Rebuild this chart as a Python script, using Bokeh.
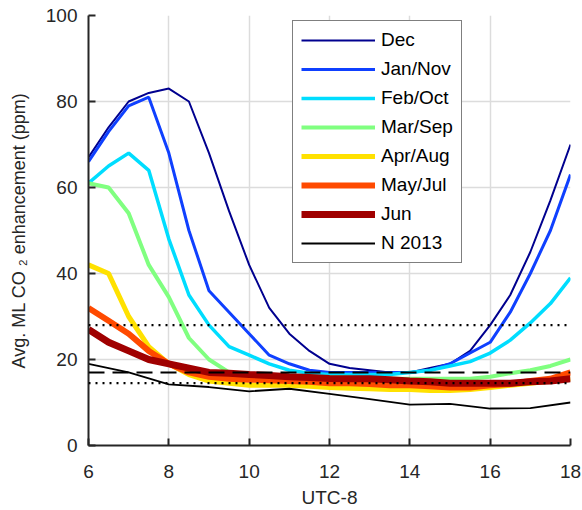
from bokeh.plotting import figure
from bokeh.models import Range1d, Span, Legend, LegendItem, FixedTicker
from bokeh.embed import file_html
from bokeh.resources import INLINE

hours = [6, 6.5, 7, 7.5, 8, 8.5, 9, 9.5, 10, 10.5, 11, 11.5, 12, 12.5, 13,
         13.5, 14, 14.5, 15, 15.5, 16, 16.5, 17, 17.5, 18]
dec = [67, 74, 80, 82, 83, 80, 68, 54.5, 42, 32, 26, 22, 19, 18, 17.5, 17, 17,
       18, 19, 22, 28, 35, 45, 57, 70]
jan_nov = [66, 73, 79, 81, 68, 50, 36, 31, 26, 21, 19, 17.5, 17, 17, 17, 17, 17,
           17.5, 19, 21.5, 24, 31, 40, 50, 63]
feb_oct = [61, 65, 68, 64, 48, 35, 28, 23, 21, 19, 17.5, 16.8, 16.5, 16.5, 16.5,
           16.5, 17, 17.5, 18.5, 19.5, 21.5, 24.5, 28.5, 33, 39]
mar_sep = [61, 60, 54, 42, 34.5, 25, 20, 17, 16.5, 16, 16, 16, 15.8, 15.8, 15.5,
           15.5, 15.5, 15.5, 15.5, 15.5, 16, 16.8, 17.5, 18.5, 20]
apr_aug = [42, 40, 30, 23, 19, 16.5, 15, 14.5, 14, 14, 14, 13.8, 13.5, 13.3, 13.2,
           13, 13, 12.8, 12.8, 13, 13.5, 14, 14.5, 15, 15.5]
may_jul = [32, 29, 26, 22, 19, 17, 16, 15.5, 15.3, 15.2, 15, 14.8, 14.5, 14.5, 14.3,
           14, 14, 13.8, 13.5, 13.5, 14, 14.3, 15, 15.5, 17]
jun = [27, 24, 22, 20, 19, 18, 17, 16.8, 16.5, 16.3, 16, 15.8, 15.6, 15.5, 15.5,
       15.3, 15, 14.8, 14.5, 14.5, 14.5, 14.5, 14.8, 15, 15.5]
n2013_hours = [6, 7, 8, 9, 10, 11, 12, 13, 14, 15, 16, 17, 18]
n2013 = [19, 17, 14.2, 13.6, 12.6, 13.2, 12, 10.8, 9.5, 9.7, 8.6, 8.7, 10]
dotted_levels = [28, 14.5]
dashed_level = 17

series_names = ["Dec", "Jan/Nov", "Feb/Oct", "Mar/Sep", "Apr/Aug", "May/Jul", "Jun"]
series_values = [dec, jan_nov, feb_oct, mar_sep, apr_aug, may_jul, jun]
colors = ["#00008F", "#0F40FF", "#00DDFF", "#80FF80", "#FFE100", "#FF4A00", "#A00000"]
widths = [2, 3, 3.5, 4, 5, 6, 7]

FONT = "Liberation Sans"
TXT = "#262626"

p = figure(width=582, height=510, output_backend="svg", toolbar_location=None,
           x_range=Range1d(6, 18), y_range=Range1d(0, 100),
           min_border_left=88, min_border_right=12, min_border_top=15,
           min_border_bottom=65)
p.outline_line_color = None
p.background_fill_color = "white"
p.border_fill_color = "white"

for ax in (p.xaxis[0], p.yaxis[0]):
    ax.axis_line_color = TXT
    ax.axis_line_width = 2
    ax.major_tick_line_color = TXT
    ax.major_tick_line_width = 2
    ax.major_tick_in = 7
    ax.major_tick_out = 0
    ax.minor_tick_line_color = None
    ax.major_label_text_font = FONT
    ax.major_label_text_font_size = "19px"
    ax.major_label_text_color = TXT
    ax.major_label_text_line_height = 1.0
    ax.axis_label_text_font = FONT
    ax.axis_label_text_font_size = "19px"
    ax.axis_label_text_color = TXT
    ax.axis_label_text_font_style = "normal"
    ax.axis_label_text_line_height = 1.0

p.xaxis.ticker = FixedTicker(ticks=[6, 8, 10, 12, 14, 16, 18])
p.yaxis.ticker = FixedTicker(ticks=[0, 20, 40, 60, 80, 100])
p.xaxis.axis_label = "UTC-8"
p.yaxis.axis_label = "Avg. ML CO \u2082 enhancement (ppm)"
p.yaxis.axis_label_text_font_size = "18px"
p.xaxis.major_label_standoff = 19
p.yaxis.major_label_standoff = 11
p.xaxis.axis_label_standoff = 6
p.yaxis.axis_label_standoff = 14

p.grid.grid_line_color = "#DCDCDC"
p.grid.grid_line_width = 1.5

items = []
for name, vals, c, w in zip(series_names, series_values, colors, widths):
    r = p.line(hours, vals, line_color=c, line_width=w)
    items.append(LegendItem(label=name, renderers=[r]))
rn = p.line(n2013_hours, n2013, line_color="black", line_width=1.8)
items.append(LegendItem(label="N 2013", renderers=[rn]))

for lv in dotted_levels:
    p.add_layout(Span(location=lv, dimension="width", line_color="black",
                      line_width=2.2, line_dash="2 5"))
p.add_layout(Span(location=dashed_level, dimension="width", line_color="black",
                  line_width=2, line_dash="16 8"))

legend = Legend(items=items, location=(204, 182))
legend.label_text_font = FONT
legend.label_text_font_size = "19px"
legend.label_text_color = "black"
legend.glyph_width = 74
legend.glyph_height = 20
legend.label_height = 20
legend.spacing = 7
legend.padding = 8
legend.margin = 0
legend.label_standoff = 6
legend.border_line_color = "black"
legend.border_line_width = 1.5
legend.background_fill_color = "white"
legend.background_fill_alpha = 1
p.add_layout(legend, "center")

open("out.html", "w").write(file_html(p, INLINE))
